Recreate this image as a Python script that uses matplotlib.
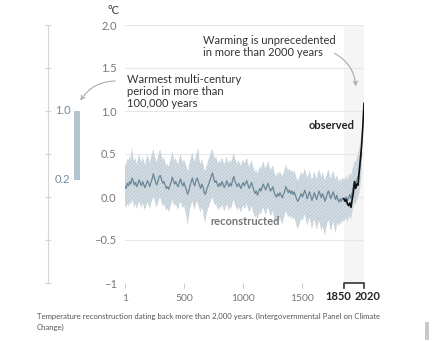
import matplotlib
matplotlib.use("Agg")
import matplotlib.pyplot as plt
from matplotlib.patches import Rectangle, FancyArrowPatch
from matplotlib.transforms import offset_copy

plt.rcParams["font.family"] = ["Lato", "DejaVu Sans"]
plt.rcParams["hatch.linewidth"] = 0.5

# Reconstructed global surface temperature (°C, relative to 1850-1900), 10-year steps
recon_years = [1] + list(range(10, 2001, 10))
recon_mean = (
    [0.12, 0.10, 0.16, 0.13, 0.18, 0.15, 0.22, 0.19, 0.14, 0.17,
     0.12, 0.15, 0.20, 0.16, 0.13, 0.18, 0.14, 0.11, 0.15, 0.19,
     0.16, 0.12, 0.17, 0.21, 0.27, 0.22, 0.17, 0.14, 0.19, 0.24,
     0.25, 0.20, 0.16, 0.18, 0.14, 0.10, 0.12, 0.09, 0.13, 0.17,
     0.23, 0.19, 0.15, 0.18, 0.14, 0.12, 0.17, 0.21, 0.16, 0.13]
    + [0.17, 0.12, 0.08, 0.03, 0.07, 0.13, 0.18, 0.22, 0.16, 0.13,
       0.19, 0.22, 0.18, 0.14, 0.10, 0.15, 0.12, 0.05, 0.03, 0.08,
       0.12, 0.16, 0.20, 0.24, 0.28, 0.22, 0.17, 0.19, 0.15, 0.12,
       0.16, 0.13, 0.18, 0.15, 0.11, 0.14, 0.19, 0.15, 0.12, 0.16,
       0.13, 0.20, 0.24, 0.18, 0.15, 0.12, 0.16, 0.13, 0.10, 0.14]
    + [0.17, 0.13, 0.16, 0.19, 0.14, 0.10, 0.13, 0.17, 0.12, 0.08,
       0.04, 0.07, 0.02, 0.06, 0.10, 0.07, 0.12, 0.15, 0.11, 0.08,
       0.13, 0.16, 0.11, 0.07, 0.09, 0.12, 0.06, 0.02, 0.00, 0.04,
       0.01, 0.05, 0.02, -0.01, 0.03, 0.07, 0.12, 0.09, 0.05, 0.08,
       0.04, 0.07, 0.03, 0.06, 0.02, -0.02, -0.05, -0.03, 0.01, 0.04]
    + [0.00, 0.04, 0.08, 0.03, -0.02, 0.02, 0.06, 0.01, -0.04, 0.00,
       0.05, 0.01, -0.03, 0.02, 0.07, 0.03, -0.01, 0.04, 0.00, -0.05,
       -0.01, 0.04, 0.07, 0.02, -0.02, 0.03, 0.06, 0.01, -0.03, 0.02,
       -0.03, -0.06, -0.02, -0.05, -0.01, -0.03]
    + [-0.02, 0.00, -0.04, -0.01, 0.03, -0.02, 0.05, 0.12, 0.18, 0.15,
       0.20, 0.24, 0.30, 0.40, 0.52]
)
recon_upper = (
    [0.40, 0.36, 0.45, 0.42, 0.48, 0.44, 0.58, 0.47, 0.41, 0.46,
     0.38, 0.44, 0.50, 0.45, 0.40, 0.47, 0.42, 0.37, 0.43, 0.49,
     0.45, 0.39, 0.46, 0.50, 0.56, 0.49, 0.44, 0.40, 0.47, 0.53,
     0.55, 0.48, 0.43, 0.46, 0.41, 0.36, 0.39, 0.35, 0.41, 0.45,
     0.53, 0.47, 0.42, 0.46, 0.40, 0.38, 0.45, 0.50, 0.44, 0.40]
    + [0.44, 0.40, 0.36, 0.30, 0.35, 0.42, 0.47, 0.52, 0.45, 0.41,
       0.48, 0.52, 0.57, 0.43, 0.38, 0.44, 0.40, 0.33, 0.30, 0.36,
       0.40, 0.45, 0.49, 0.53, 0.56, 0.50, 0.44, 0.47, 0.42, 0.39,
       0.43, 0.40, 0.46, 0.42, 0.38, 0.41, 0.47, 0.42, 0.39, 0.44,
       0.40, 0.47, 0.51, 0.45, 0.42, 0.38, 0.43, 0.40, 0.36, 0.41]
    + [0.43, 0.39, 0.42, 0.46, 0.40, 0.35, 0.38, 0.43, 0.37, 0.33,
       0.29, 0.32, 0.27, 0.31, 0.36, 0.32, 0.38, 0.41, 0.36, 0.33,
       0.38, 0.42, 0.36, 0.31, 0.34, 0.37, 0.30, 0.26, 0.24, 0.29,
       0.26, 0.30, 0.27, 0.24, 0.28, 0.32, 0.38, 0.34, 0.30, 0.33,
       0.29, 0.32, 0.28, 0.31, 0.27, 0.22, 0.19, 0.21, 0.26, 0.29]
    + [0.25, 0.29, 0.33, 0.28, 0.22, 0.26, 0.31, 0.25, 0.20, 0.24,
       0.30, 0.25, 0.21, 0.27, 0.32, 0.28, 0.23, 0.29, 0.24, 0.19,
       0.23, 0.28, 0.32, 0.26, 0.21, 0.27, 0.31, 0.25, 0.20, 0.26,
       0.21, 0.17, 0.22, 0.18, 0.23, 0.20]
    + [0.22, 0.25, 0.20, 0.24, 0.28, 0.24, 0.30, 0.36, 0.42, 0.40,
       0.46, 0.50, 0.56, 0.64, 0.75]
)
recon_lower = (
    [-0.10, -0.13, -0.08, -0.11, -0.06, -0.09, -0.03, -0.06, -0.12, -0.08,
     -0.14, -0.10, -0.05, -0.09, -0.13, -0.07, -0.11, -0.16, -0.10, -0.06,
     -0.09, -0.14, -0.08, -0.04, 0.01, -0.03, -0.09, -0.12, -0.07, -0.02,
     -0.01, -0.06, -0.11, -0.08, -0.12, -0.16, -0.13, -0.18, -0.13, -0.09,
     -0.03, -0.07, -0.11, -0.08, -0.12, -0.15, -0.09, -0.05, -0.10, -0.13]
    + [-0.10, -0.16, -0.22, -0.33, -0.24, -0.14, -0.09, -0.05, -0.11, -0.15,
       -0.08, -0.05, -0.09, -0.14, -0.18, -0.12, -0.16, -0.26, -0.30, -0.20,
       -0.15, -0.11, -0.07, -0.03, 0.00, -0.05, -0.10, -0.08, -0.12, -0.16,
       -0.11, -0.14, -0.09, -0.12, -0.17, -0.13, -0.08, -0.12, -0.16, -0.11,
       -0.14, -0.07, -0.03, -0.09, -0.12, -0.16, -0.11, -0.14, -0.18, -0.13]
    + [-0.10, -0.14, -0.11, -0.08, -0.13, -0.18, -0.15, -0.10, -0.16, -0.20,
       -0.24, -0.21, -0.27, -0.22, -0.17, -0.21, -0.15, -0.12, -0.17, -0.21,
       -0.15, -0.12, -0.17, -0.22, -0.20, -0.16, -0.23, -0.28, -0.31, -0.25,
       -0.29, -0.24, -0.28, -0.32, -0.26, -0.21, -0.16, -0.20, -0.24, -0.21,
       -0.25, -0.22, -0.27, -0.23, -0.28, -0.33, -0.37, -0.34, -0.29, -0.25]
    + [-0.28, -0.24, -0.20, -0.26, -0.33, -0.29, -0.23, -0.30, -0.37, -0.32,
       -0.25, -0.31, -0.38, -0.33, -0.27, -0.32, -0.40, -0.34, -0.39, -0.45,
       -0.37, -0.30, -0.26, -0.33, -0.40, -0.34, -0.28, -0.35, -0.42, -0.33,
       -0.30, -0.34, -0.28, -0.32, -0.26, -0.29]
    + [-0.26, -0.24, -0.30, -0.25, -0.21, -0.27, -0.19, -0.12, -0.06, -0.09,
       -0.04, 0.00, 0.05, 0.14, 0.28]
)

# Observed temperature, 1850-2020
obs_years = list(range(1850, 2021, 10))
obs_temp = [-0.02, -0.05, -0.03, -0.08, -0.10, -0.07, -0.12, -0.03, 0.05,
            0.18, 0.10, 0.15, 0.14, 0.30, 0.45, 0.60, 0.82, 1.09]

# Warmest multi-century period of the last 100,000 years (range)
warm_period = (0.2, 1.0)

y_ticks = [2.0, 1.5, 1.0, 0.5, 0.0, -0.5, -1]
y_tick_labels = ["2.0", "1.5", "1.0", "0.5", "0.0", "\u22120.5", "\u22121"]
x_ticks = [1, 500, 1000, 1500]
x_ticks_bold = [1850, 2020]

W, H = 438, 341
fig = plt.figure(figsize=(W / 100, H / 100), dpi=100)
fig.patch.set_facecolor("white")

def fx(px):
    return px / W

def fy(py):
    return 1 - py / H

band_face = "#d3dce2"
band_hatch = "#b8c6cf"

# Main axes
ax = fig.add_axes([fx(125), fy(283), fx(364) - fx(125), fy(25) - fy(283)])
ax.set_xlim(1, 2020)
ax.set_ylim(-1, 2)
for s in ax.spines.values():
    s.set_visible(False)

ax.axvspan(1850, 2020, color="#f5f5f5", zorder=0, lw=0)
for yv in y_ticks:
    if yv > -1:
        ax.axhline(yv, color="#e6e6e6", lw=0.8, zorder=0.5)

ax.fill_between(recon_years, recon_lower, recon_upper, facecolor=band_face,
                edgecolor=band_hatch, hatch="/////////", linewidth=0, zorder=1)
ax.plot(recon_years, recon_mean, color="#6a8799", lw=0.9, zorder=2)
ax.plot(obs_years, obs_temp, color="#111111", lw=1.2, zorder=3)

ax.set_yticks(y_ticks)
ax.set_yticklabels(y_tick_labels)
ax.tick_params(axis="y", length=0, pad=6, labelsize=8, labelcolor="#777777")

ax.set_xticks(x_ticks)
ax.set_xticklabels([str(v) for v in x_ticks])
ax.tick_params(axis="x", length=3.6, width=0.8, color="#cccccc", pad=4,
               labelsize=7.5, labelcolor="#777777")

# Bold labels for the observed period, nudged apart
tr = ax.get_xaxis_transform()
for yr, dx in zip(x_ticks_bold, (-6, 4)):
    ax.text(yr, 0, str(yr), transform=offset_copy(tr, fig=fig, x=dx, y=-14, units="dots"),
            ha="center", va="center", fontsize=8, fontweight="bold", color="#222222")

# Bracket marking the observed period
drop = -5 / 258
ax.plot([1850, 1850, 2020, 2020], [drop, 0, 0, drop], transform=tr,
        color="#333333", lw=1.2, clip_on=False, zorder=4)

ax.text(1942, 0.83, "observed", ha="right", va="center", fontsize=8,
        fontweight="bold", color="#222222")
ax.text(725, -0.28, "reconstructed", ha="left", va="center", fontsize=8,
        fontweight="bold", color="#777777")

# Left range panel
ax2 = fig.add_axes([fx(48), fy(283), fx(90) - fx(48), fy(25) - fy(283)])
ax2.set_xlim(0, 42)
ax2.set_ylim(-1, 2)
ax2.patch.set_alpha(0)
for k in ("top", "right", "bottom"):
    ax2.spines[k].set_visible(False)
ax2.spines["left"].set_color("#d5d5d5")
ax2.spines["left"].set_linewidth(0.8)
ax2.set_xticks([])
ax2.set_yticks(y_ticks)
ax2.set_yticklabels([])
ax2.tick_params(axis="y", direction="inout", length=4, width=0.8, color="#d5d5d5")
ax2.bar([29], [warm_period[1] - warm_period[0]], bottom=warm_period[0], width=6,
        facecolor="#bccad3", edgecolor="#a5b6c1", hatch="/////////", linewidth=0)
ax2.text(7, warm_period[1], f"{warm_period[1]:.1f}", ha="left", va="center",
         fontsize=8, color="#6d8ba0")
ax2.text(7, warm_period[0], f"{warm_period[0]:.1f}", ha="left", va="center",
         fontsize=8, color="#6d8ba0")

# Unit label
fig.text(fx(113), fy(10), "°C", ha="center", va="center", fontsize=8,
         color="#333333")

# Annotations
fig.text(fx(203), fy(35), "Warming is unprecedented\nin more than 2000 years",
         ha="left", va="top", fontsize=8, color="#333333", linespacing=1.1)
fig.text(fx(127), fy(74), "Warmest multi-century\nperiod in more than\n100,000 years",
         ha="left", va="top", fontsize=8, color="#333333", linespacing=1.1)

arrow = dict(arrowstyle="->", color="#aaaaaa", lw=0.8, mutation_scale=7)
fig.add_artist(FancyArrowPatch(
    (332, H - 52), (356, H - 89), transform=None,
    connectionstyle="arc3,rad=-0.3", **arrow))
fig.add_artist(FancyArrowPatch(
    (118, H - 81), (79, H - 103), transform=None,
    connectionstyle="arc3,rad=0.3", **arrow))

# Caption
fig.text(fx(37), fy(316),
         "Temperature reconstruction dating back more than 2,000 years. (Intergovernmental Panel on Climate",
         ha="left", va="center", fontsize=5.6, color="#555555")
fig.text(fx(37), fy(327), "Change)", ha="left", va="center", fontsize=5.6,
         color="#555555")

fig.add_artist(Rectangle((425, H - 340), 4, 18, transform=None,
                         facecolor="#c8c8c8", edgecolor="none"))

fig.savefig("out.png", dpi=100)
